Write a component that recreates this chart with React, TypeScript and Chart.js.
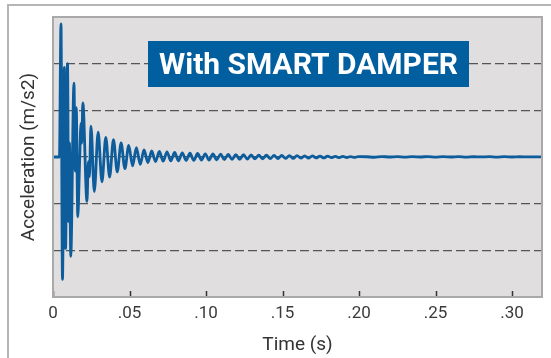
import React, { useEffect, useRef } from "react";
import { Chart, registerables } from "chart.js";

Chart.register(...registerables);

// time in milliseconds
const timeMs = [
  0, 4.2, 5.2, 6.2, 7.4, 8.2, 9.5, 10.2, 10.8, 11.6, 13.7, 14.5, 15.2, 16.2, 17.3, 18.3, 18.8, 19.5,
  22.2, 23.1, 23.8, 24.8, 27.0,
  29.5, 32, 34.5, 37, 39.5, 42, 44.5, 47, 49.5, 52, 54.5, 57, 59.5, 62, 64.5, 67, 69.5, 72, 74.5, 77,
  79.5, 82, 84.5, 87, 89.5, 92, 94.5, 97, 99.5, 102, 104.5, 107, 109.5, 112, 114.5, 117, 119.5, 122,
  124.5, 127, 129.5, 132, 134.5, 137, 139.5, 142, 144.5, 147, 149.5, 152, 154.5, 157, 159.5, 162,
  164.5, 167, 169.5, 172, 174.5, 177, 179.5, 182, 184.5, 187, 189.5, 192, 194.5, 197, 199.5,
  205, 210, 215, 220, 225, 230, 235, 240, 245, 250, 255, 260, 265, 270, 275, 280, 285, 290, 295,
  300, 305, 310, 315, 319.6,
];

// acceleration (grid units)
const accel = [
  0, 0, 2.85, -2.62, 1.92, -1.96, 2.0, -1.38, 0.3, -2.13, 1.58, -0.3, 1.06, -1.28, -0.2, 0.72, 0.3, 1.16,
  -0.95, -0.1, -0.42, 0.66, -0.74,
  0.53, -0.53, 0.42, -0.43, 0.37, -0.32, 0.3, -0.25, 0.25, -0.19, 0.2, -0.16, 0.15, -0.12, 0.13, -0.1,
  0.12, -0.09, 0.11, -0.085,
  0.1, -0.08, 0.09, -0.075, 0.08, -0.07, 0.075, -0.065, 0.065, -0.065, 0.065, -0.06, 0.06, -0.055, 0.055,
  -0.05, 0.05, -0.05,
  0.05, -0.045, 0.045, -0.04, 0.04, -0.04, 0.04, -0.035, 0.035, -0.035, 0.035, -0.03, 0.03, -0.03, 0.03,
  -0.025,
  0.025, -0.025, 0.025, -0.02, 0.02, -0.02, 0.02, -0.015, 0.015, -0.015, 0.012, -0.012, 0.01, -0.01, 0.01,
  0.005, -0.005, 0.01, 0, 0.008, -0.004, 0.006, 0, 0.01, -0.003, 0.006, 0, 0.008, -0.004, 0.005, 0.002,
  0.007, -0.003, 0.006,
  0, 0.005, 0.003, 0.004, 0.003,
];

const xTickValues = [0, 0.05, 0.1, 0.15, 0.2, 0.25, 0.3];
const xTickLabels = ["0", ".05", ".10", ".15", ".20", ".25", ".30"];
const yGridValues = [-3, -2, -1, 0, 1, 2, 3];
const xMax = 0.3196;
const bannerText = "With SMART DAMPER";
const xTitleText = "Time (s)";
const yTitleText = "Acceleration (m/s2)";

const FONT = "Roboto, 'DejaVu Sans', sans-serif";

export default function App() {
  const canvasRef = useRef<HTMLCanvasElement | null>(null);

  useEffect(() => {
    const canvas = canvasRef.current;
    if (!canvas) return;

    const decorPlugin = {
      id: "decor",
      beforeDraw(chart: any) {
        const { ctx, chartArea: a } = chart;
        ctx.save();
        ctx.fillStyle = "#e0dedf";
        ctx.fillRect(a.left, a.top, a.right - a.left, a.bottom - a.top);
        ctx.restore();
      },
      afterDatasetsDraw(chart: any) {
        const { ctx, chartArea: a } = chart;
        const xs = chart.scales.x;
        ctx.save();
        // tick marks inside the plot, bottom edge
        ctx.strokeStyle = "#333";
        ctx.lineWidth = 1.5;
        xTickValues.forEach((v) => {
          const px = Math.round(xs.getPixelForValue(v)) + 0.5;
          ctx.beginPath();
          ctx.moveTo(px, a.bottom);
          ctx.lineTo(px, a.bottom - 6);
          ctx.stroke();
        });
        // plot frame
        ctx.strokeStyle = "#a9a9a9";
        ctx.lineWidth = 2;
        ctx.strokeRect(a.left, a.top, a.right - a.left, a.bottom - a.top);

        // banner
        const bx = a.left + 95;
        const by = a.top + 24;
        const bw = 321;
        const bh = 46;
        ctx.fillStyle = "#015f9f";
        ctx.fillRect(bx, by, bw, bh);
        ctx.fillStyle = "#ffffff";
        ctx.font = `bold 30px ${FONT}`;
        ctx.textAlign = "center";
        ctx.textBaseline = "alphabetic";
        ctx.fillText(bannerText, bx + bw / 2, by + 33, 299);
        ctx.restore();
      },
    };

    const chart = new Chart(canvas, {
      type: "line",
      data: {
        datasets: [
          {
            data: timeMs.map((t, i) => ({ x: t / 1000, y: accel[i] })),
            borderColor: "#0d5d9c",
            borderWidth: 2.8,
            pointRadius: 0,
            cubicInterpolationMode: "monotone",
            fill: false,
          },
        ],
      },
      options: {
        animation: false,
        responsive: false,
        devicePixelRatio: 1,
        parsing: false as any,
        layout: { padding: { top: 17, right: 9, left: 0, bottom: 0 } },
        plugins: { legend: { display: false }, tooltip: { enabled: false }, title: { display: false } },
        scales: {
          x: {
            type: "linear",
            min: 0,
            max: xMax,
            afterBuildTicks: (s: any) => {
              s.ticks = xTickValues.map((v) => ({ value: v }));
            },
            afterFit: (s: any) => {
              s.height = 61;
            },
            grid: { display: false, drawTicks: false },
            border: { display: false },
            ticks: {
              autoSkip: false,
              maxRotation: 0,
              padding: 7,
              color: "#3a3a3a",
              font: { family: FONT, size: 17 },
              callback: (_v: any, i: number) => xTickLabels[i],
            },
            title: {
              display: true,
              text: xTitleText,
              color: "#333",
              font: { family: FONT, size: 19 },
              padding: { top: 0, bottom: 1 },
            },
          },
          y: {
            type: "linear",
            min: -3,
            max: 3,
            afterBuildTicks: (s: any) => {
              s.ticks = yGridValues.map((v) => ({ value: v }));
            },
            afterFit: (s: any) => {
              s.width = 53;
            },
            grid: { color: "#555", lineWidth: 1.2, drawTicks: false },
            border: { display: false, dash: [9, 4] },
            ticks: { display: false },
            title: {
              display: true,
              text: yTitleText,
              color: "#333",
              font: { family: FONT, size: 19 },
              padding: { top: 18, bottom: 0 },
            },
          },
        },
      },
      plugins: [decorPlugin],
    } as any);

    return () => chart.destroy();
  }, []);

  return (
    <div
      style={{
        position: "fixed",
        left: 0,
        top: 0,
        width: 551,
        height: 358,
        background: "#fff",
        overflow: "hidden",
      }}
    >
      <div
        style={{
          position: "absolute",
          left: 7,
          top: 4,
          right: -10,
          bottom: -10,
          borderLeft: "2px solid #b5b5b5",
          borderTop: "2px solid #b5b5b5",
        }}
      />
      <canvas
        ref={canvasRef}
        width={551}
        height={358}
        style={{ position: "absolute", left: 0, top: 0, width: 551, height: 358 }}
      />
    </div>
  );
}
